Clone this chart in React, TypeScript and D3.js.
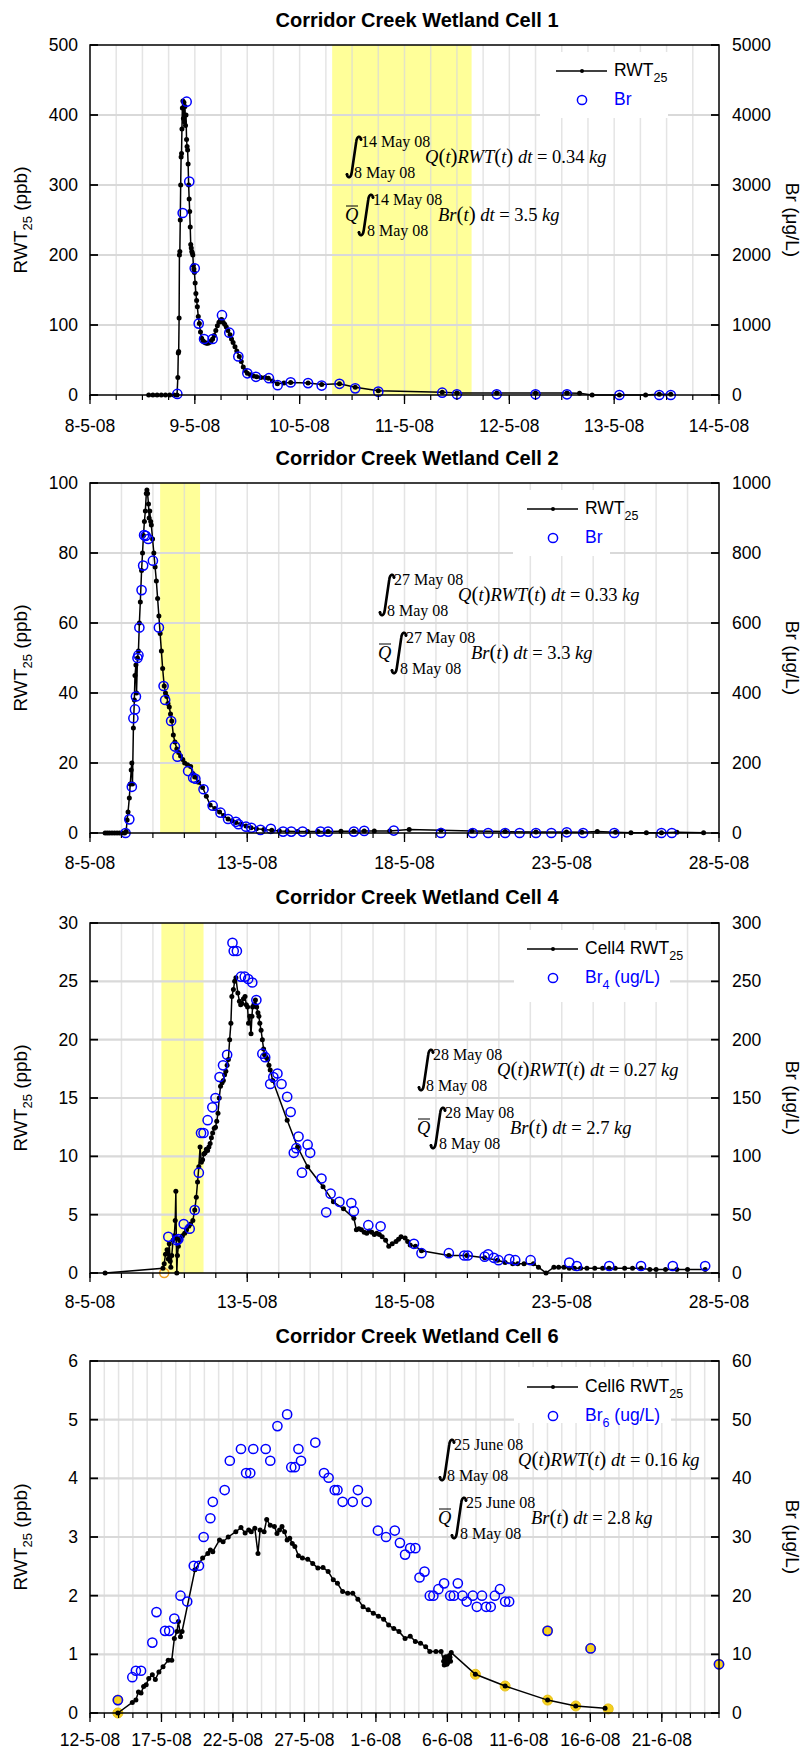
import React from "react";
import * as d3 from "d3";

type Pt = [number, number];

const W = 804;
const H = 1751;
const PLOT_LEFT = 90;
const PLOT_RIGHT = 719;
const SANS = "'Liberation Sans', Arial, Helvetica, sans-serif";
const SERIF = "'Liberation Serif', 'Times New Roman', Times, serif";
const BLUE = "#0000ff";

// ---------------- Cell 1 ----------------
const cell1Title = "Corridor Creek Wetland Cell 1";
const cell1Dates = ["2008-05-08", "2008-05-14"];
const cell1LeftTicks = [0, 100, 200, 300, 400, 500];
const cell1RightTicks = [0, 1000, 2000, 3000, 4000, 5000];
const cell1Shade: Pt = [2.31, 3.64];
const cell1Rwt: Pt[] = [
  [0.56, 0], [0.6, 0], [0.64, 0], [0.68, 0], [0.72, 0], [0.76, 0], [0.8, 0], [0.83, 0],
  [0.838, 25], [0.842, 60], [0.846, 62], [0.85, 110], [0.853, 200], [0.857, 205], [0.861, 250],
  [0.865, 300], [0.869, 340], [0.873, 345], [0.877, 380], [0.881, 410], [0.886, 420], [0.891, 395],
  [0.896, 418], [0.901, 390], [0.906, 412], [0.911, 385], [0.916, 400], [0.921, 365], [0.926, 355],
  [0.931, 350], [0.936, 330], [0.941, 300], [0.946, 280], [0.951, 262], [0.956, 240], [0.961, 215],
  [0.966, 210], [0.971, 205], [0.976, 203], [0.981, 200], [0.986, 185], [0.991, 180], [0.996, 175],
  [1.003, 160], [1.01, 145], [1.017, 135], [1.024, 126], [1.033, 112], [1.043, 102], [1.054, 90],
  [1.065, 81], [1.08, 77], [1.095, 75], [1.11, 74], [1.125, 74], [1.14, 75], [1.155, 77], [1.17, 80],
  [1.185, 85], [1.2, 92], [1.215, 99], [1.23, 104], [1.245, 107], [1.256, 108], [1.27, 104],
  [1.285, 101], [1.3, 97], [1.315, 92], [1.336, 86], [1.35, 80], [1.365, 75], [1.383, 69], [1.4, 63],
  [1.424, 55], [1.443, 48], [1.462, 40], [1.48, 35], [1.501, 31], [1.53, 29], [1.56, 27], [1.59, 26],
  [1.63, 25], [1.67, 25], [1.701, 24], [1.74, 20], [1.787, 16], [1.85, 17], [1.914, 18], [2.08, 17],
  [2.21, 15], [2.38, 16], [2.53, 11], [2.75, 6], [3.36, 4], [3.5, 3], [3.88, 3], [4.25, 3], [4.55, 3],
  [4.67, 2.5], [4.79, 0], [5.05, 0], [5.3, 0], [5.43, 1], [5.54, 1],
];
const cell1Br: Pt[] = [
  [0.833, 15], [0.884, 2600], [0.922, 4190], [0.947, 3050], [0.999, 1810], [1.037, 1020],
  [1.088, 800], [1.17, 800], [1.259, 1140], [1.329, 890], [1.415, 550], [1.501, 310], [1.583, 260],
  [1.707, 240], [1.79, 140], [1.914, 180], [2.08, 170], [2.21, 135], [2.38, 160], [2.53, 95],
  [2.75, 48], [3.36, 33], [3.5, 10], [3.88, 10], [4.25, 10], [4.55, 10], [5.05, 0], [5.43, 0], [5.54, 0],
];
const cell1Yellow: Pt[] = [];
const cell1LegendLine = "RWT";
const cell1LegendMarker = "Br";
const cell1MarkerSub = "";
const cell1Upper = "14 May 08";
const cell1Results = ["0.34", "3.5"];

// ---------------- Cell 2 ----------------
const cell2Title = "Corridor Creek Wetland Cell 2";
const cell2Dates = ["2008-05-08", "2008-05-28"];
const cell2LeftTicks = [0, 20, 40, 60, 80, 100];
const cell2RightTicks = [0, 200, 400, 600, 800, 1000];
const cell2Shade: Pt = [2.23, 3.5];
const cell2Rwt: Pt[] = [
  [0.48, 0], [0.55, 0], [0.62, 0], [0.7, 0], [0.78, 0], [0.86, 0], [0.94, 0], [1.02, 0], [1.1, 0],
  [1.15, 0.5], [1.18, 3.7], [1.21, 6], [1.25, 10], [1.28, 14], [1.31, 18], [1.33, 20], [1.35, 14],
  [1.38, 30], [1.41, 38], [1.43, 45], [1.46, 48], [1.48, 40], [1.51, 50], [1.54, 52], [1.57, 60],
  [1.6, 66], [1.64, 75], [1.67, 80], [1.7, 85], [1.73, 89], [1.76, 92], [1.79, 97], [1.81, 98],
  [1.83, 97], [1.86, 94], [1.88, 90], [1.9, 92], [1.93, 89], [1.95, 88], [1.99, 84], [2.03, 80],
  [2.07, 76], [2.11, 72], [2.15, 67], [2.19, 62], [2.23, 57], [2.27, 52], [2.31, 47], [2.36, 42],
  [2.4, 40], [2.44, 39], [2.48, 37], [2.52, 36], [2.56, 34], [2.6, 32], [2.65, 28], [2.7, 26],
  [2.76, 24], [2.82, 23], [2.88, 22], [2.95, 21], [3.01, 20], [3.1, 19.5], [3.2, 19], [3.27, 17],
  [3.33, 16], [3.45, 14.5], [3.58, 13], [3.7, 10.5], [3.82, 8], [3.97, 7], [4.12, 6], [4.25, 5],
  [4.39, 4], [4.52, 3.5], [4.64, 3], [4.8, 2.5], [4.96, 2], [5.12, 1.5], [5.29, 1.2], [5.53, 1],
  [5.78, 0.8], [6.02, 0.6], [6.27, 0.5], [6.6, 0.4], [6.92, 0.4], [7.25, 0.4], [7.57, 0.4],
  [7.98, 0.5], [8.39, 0.5], [8.72, 0.6], [9.04, 0.6], [9.53, 0.6], [10.15, 1.0], [11.16, 0.8],
  [12.14, 0.6], [13.2, 0.4], [14.18, 0.3], [15.15, 0.3], [15.64, 0.2], [16.13, 0.4], [16.71, 0.2],
  [17.2, 0.1], [17.69, 0.1], [18.17, 0.1], [18.66, 0.2], [19.51, 0.1],
];
const cell2Br: Pt[] = [
  [1.13, 0], [1.25, 39], [1.33, 132], [1.38, 328], [1.43, 353], [1.46, 390], [1.51, 500], [1.54, 508],
  [1.57, 587], [1.64, 694], [1.69, 764], [1.72, 851], [1.77, 849], [1.85, 840], [2.0, 778], [2.19, 587],
  [2.34, 420], [2.39, 380], [2.58, 320], [2.7, 247], [2.78, 218], [3.12, 177], [3.28, 158], [3.35, 155],
  [3.61, 125], [3.9, 78], [4.15, 58], [4.39, 40], [4.64, 32], [4.72, 25], [4.96, 18], [5.13, 15],
  [5.42, 9], [5.75, 12], [6.14, 4], [6.4, 4], [6.76, 4], [7.33, 4], [7.57, 4], [8.39, 4], [8.72, 6],
  [9.66, 7], [11.16, 0], [12.17, 0], [12.66, 0], [13.2, 0], [13.66, 0], [14.18, 0], [14.67, 0],
  [15.16, 2], [15.68, 0], [16.67, 0], [18.17, 0], [18.5, 0],
];
const cell2Yellow: Pt[] = [];
const cell2LegendLine = "RWT";
const cell2LegendMarker = "Br";
const cell2MarkerSub = "";
const cell2Upper = "27 May 08";
const cell2Results = ["0.33", "3.3"];

// ---------------- Cell 4 ----------------
const cell4Title = "Corridor Creek Wetland Cell 4";
const cell4Dates = ["2008-05-08", "2008-05-28"];
const cell4LeftTicks = [0, 5, 10, 15, 20, 25, 30];
const cell4RightTicks = [0, 50, 100, 150, 200, 250, 300];
const cell4Shade: Pt = [2.27, 3.61];
const cell4Rwt: Pt[] = [
  [0.48, 0], [2.32, 0.4], [2.36, 0.8], [2.4, 1.6], [2.45, 2.0], [2.49, 1.2], [2.52, 2.5], [2.55, 1.0],
  [2.57, 0.5], [2.6, 1.5], [2.64, 2.8], [2.68, 3.2], [2.71, 4.5], [2.73, 7], [2.745, 3], [2.76, 0],
  [2.78, 1.5], [2.81, 2.3], [2.85, 2.8], [2.88, 3], [2.94, 3.2], [3.01, 3.4], [3.07, 3.7], [3.14, 4],
  [3.2, 4.2], [3.27, 4.5], [3.33, 5.4], [3.38, 6.5], [3.42, 7.8], [3.46, 9.1], [3.5, 10.8], [3.54, 9.5],
  [3.58, 9.7], [3.62, 10.2], [3.66, 10.3], [3.7, 10.6], [3.74, 10.5], [3.78, 10.8], [3.82, 11.1],
  [3.86, 11.6], [3.9, 12], [3.95, 12.4], [3.99, 12.5], [4.03, 13], [4.07, 13.7], [4.11, 15], [4.15, 16],
  [4.2, 16.3], [4.24, 16.5], [4.28, 17], [4.32, 17.3], [4.36, 17.8], [4.4, 18.3], [4.44, 20],
  [4.48, 21.4], [4.51, 23.7], [4.56, 24.3], [4.6, 25], [4.64, 25.3], [4.7, 24], [4.75, 23.3], [4.79, 23],
  [4.83, 23.1], [4.88, 23.5], [4.93, 23.7], [4.97, 23], [5.01, 22.8], [5.04, 21.4], [5.08, 22],
  [5.12, 20.5], [5.15, 22], [5.17, 22.8], [5.21, 23], [5.26, 23.4], [5.3, 22.8], [5.34, 22.3], [5.37, 22],
  [5.4, 21.4], [5.44, 20.8], [5.48, 20], [5.52, 19.2], [5.55, 18.7], [5.6, 18.5], [5.65, 18.3],
  [5.69, 17.8], [5.73, 17.4], [5.81, 16.5], [6.27, 13.1], [6.6, 10.8], [6.92, 9.1], [7.41, 7.4],
  [7.74, 6.1], [8.06, 5.5], [8.39, 4.7], [8.47, 3.7], [8.55, 3.8], [8.63, 3.7], [8.72, 3.5], [8.8, 3.4],
  [8.88, 3.6], [8.96, 3.5], [9.04, 3.3], [9.12, 3.4], [9.2, 3.3], [9.29, 3.1], [9.4, 2.8], [9.5, 2.3],
  [9.61, 2.5], [9.73, 2.7], [9.81, 2.9], [9.89, 3.1], [10.02, 3.0], [10.1, 2.7], [10.18, 2.4],
  [10.35, 2.3], [10.54, 1.9], [11.41, 1.5], [11.98, 1.5], [12.55, 1.3], [12.96, 1.1], [13.2, 0.9],
  [13.44, 0.8], [13.6, 0.8], [13.8, 0.8], [14.1, 0.8], [14.26, 0.5], [14.5, 0], [14.75, 0.5], [14.9, 0.5],
  [15.07, 0.5], [15.24, 0.4], [15.4, 0.4], [15.6, 0.4], [15.8, 0.4], [16.05, 0.4], [16.3, 0.4],
  [16.5, 0.4], [16.7, 0.4], [17.0, 0.4], [17.25, 0.4], [17.52, 0.4], [17.8, 0.3], [18.0, 0.3],
  [18.3, 0.3], [18.66, 0.3], [19.0, 0.3], [19.56, 0.3],
];
const cell4Br: Pt[] = [
  [2.49, 31], [2.76, 28], [2.81, 29], [2.98, 42], [3.17, 38], [3.33, 54], [3.46, 86], [3.53, 120],
  [3.61, 120], [3.74, 131], [3.89, 142], [3.99, 150], [4.12, 168], [4.23, 178], [4.36, 187], [4.53, 283],
  [4.57, 276], [4.67, 276], [4.8, 254], [4.92, 254], [5.03, 252], [5.16, 249], [5.29, 234], [5.48, 188],
  [5.57, 185], [5.73, 162], [5.83, 168], [5.96, 171], [6.09, 162], [6.27, 151], [6.38, 138], [6.48, 103],
  [6.56, 107], [6.63, 117], [6.74, 86], [6.92, 110], [7.0, 103], [7.36, 81], [7.51, 52], [7.65, 68],
  [7.93, 61], [8.31, 60], [8.39, 53], [8.85, 41], [9.24, 40], [10.3, 25], [10.54, 17], [11.41, 17],
  [11.9, 15], [12.01, 15], [12.55, 14], [12.66, 16], [12.84, 13], [12.99, 11], [13.33, 12], [13.52, 11],
  [14.01, 11], [15.24, 9], [15.48, 6], [16.51, 6], [17.52, 6], [18.53, 6], [19.56, 6],
];
const cell4Yellow: Pt[] = [[2.36, 0]];
const cell4LegendLine = "Cell4 RWT";
const cell4LegendMarker = "Br";
const cell4MarkerSub = "4";
const cell4Upper = "28 May 08";
const cell4Results = ["0.27", "2.7"];

// ---------------- Cell 6 ----------------
const cell6Title = "Corridor Creek Wetland Cell 6";
const cell6Dates = ["2008-05-12", "2008-06-25"];
const cell6LeftTicks = [0, 1, 2, 3, 4, 5, 6];
const cell6RightTicks = [0, 10, 20, 30, 40, 50, 60];
const cell6Rwt: Pt[] = [
  [1.95, 0], [2.96, 0.18], [3.21, 0.22], [3.39, 0.36], [3.57, 0.34], [3.75, 0.45], [3.93, 0.48],
  [4.11, 0.59], [4.36, 0.65], [4.57, 0.57], [4.82, 0.7], [5.11, 0.79], [5.47, 0.9], [5.72, 0.9],
  [5.9, 1.27], [6.08, 1.39], [6.19, 1.56], [6.33, 1.3], [6.44, 1.39], [7.34, 2.44], [7.88, 2.64],
  [8.24, 2.72], [8.42, 2.78], [8.59, 2.75], [9.06, 2.95], [9.31, 2.92], [9.67, 3.0], [10.2, 3.09],
  [10.56, 3.16], [10.85, 3.07], [11.1, 3.12], [11.28, 3.09], [11.53, 3.15], [11.75, 2.72], [11.9, 3.12],
  [12.18, 3.09], [12.36, 3.3], [12.61, 3.2], [12.9, 3.18], [13.08, 3.06], [13.26, 3.12], [13.43, 3.18],
  [13.61, 3.09], [13.79, 2.95], [13.97, 2.98], [14.15, 2.89], [14.33, 2.84], [14.58, 2.68], [14.86, 2.64],
  [15.23, 2.62], [15.58, 2.55], [15.94, 2.47], [16.3, 2.48], [16.66, 2.41], [17.02, 2.27], [17.31, 2.21],
  [17.67, 2.07], [18.03, 2.04], [18.38, 2.04], [18.74, 1.94], [19.1, 1.81], [19.46, 1.76], [19.82, 1.7],
  [20.18, 1.65], [20.54, 1.6], [20.89, 1.5], [21.25, 1.44], [21.61, 1.39], [22.04, 1.27], [22.4, 1.31],
  [22.76, 1.22], [23.12, 1.19], [23.48, 1.13], [23.77, 1.05], [24.2, 1.05], [24.56, 1.05], [24.74, 0.88],
  [24.78, 0.82], [24.83, 0.95], [24.87, 0.85], [24.92, 0.96], [24.96, 0.83], [25.0, 0.85], [25.05, 0.92],
  [25.1, 0.9], [25.14, 0.98], [25.18, 0.95], [25.22, 0.88], [25.27, 1.03], [26.96, 0.66],
  [29.04, 0.46], [32.01, 0.22], [33.98, 0.12], [36.03, 0.08],
];
const cell6Br: Pt[] = [
  [1.95, 2.2], [2.96, 6.1], [3.21, 7.2], [3.57, 7.2], [4.36, 12], [4.65, 17.2], [5.25, 14], [5.54, 14],
  [5.9, 16.1], [6.33, 20], [6.8, 19], [7.26, 25.1], [7.62, 25.1], [7.95, 30], [8.42, 33.2], [8.59, 36],
  [9.42, 38], [9.78, 43], [10.56, 45], [10.92, 40.9], [11.21, 40.9], [11.42, 45], [12.29, 45], [12.61, 43],
  [13.11, 48.9], [13.79, 50.9], [14.08, 41.9], [14.33, 41.9], [14.58, 45], [14.76, 43], [15.76, 46.1],
  [16.37, 40.9], [16.69, 40.1], [17.12, 38], [17.31, 38], [17.67, 36], [18.38, 36], [18.74, 38],
  [19.35, 36], [20.14, 31.1], [20.71, 30], [21.32, 31.1], [21.68, 29], [22.04, 27], [22.4, 28.1],
  [22.76, 28.1], [23.05, 23.1], [23.4, 24.1], [23.77, 20], [24.02, 20], [24.37, 21.1], [24.77, 22.1],
  [25.2, 20], [25.45, 20], [25.73, 22.1], [26.06, 20], [26.35, 19], [26.78, 20], [27.06, 18.1],
  [27.42, 20], [27.71, 18.1], [28.03, 18.1], [28.32, 20], [28.68, 21.1], [29.04, 19], [29.32, 19],
  [32.01, 14], [35.02, 11], [44.0, 8.3],
];
const cell6Yellow: Pt[] = [
  [1.95, 0], [1.95, 2.2], [26.96, 6.6], [29.04, 4.6], [32.01, 2.2], [32.01, 14], [33.98, 1.2],
  [35.02, 11], [36.25, 0.7], [44.0, 8.3],
];
const cell6LegendLine = "Cell6 RWT";
const cell6LegendMarker = "Br";
const cell6MarkerSub = "6";
const cell6Upper = "25 June 08";
const cell6Results = ["0.16", "2.8"];

const lowerLimit = "8 May 08";

// ---------------- layout ----------------
type PanelCfg = {
  title: string;
  dates: string[];
  top: number;
  bottom: number;
  titleY: number;
  hourly: boolean;
  leftTicks: number[];
  rightTicks: number[];
  shade: Pt | null;
  rwt: Pt[];
  br: Pt[];
  yellow: Pt[];
  yellowStyle: "fill" | "ring";
  legendLine: string;
  legendMarker: string;
  markerSub: string;
  markerSuffix: string;
  legendX: number;
  legendBox: [number, number, number, number];
  upper: string;
  results: string[];
  ix: number;
  iy: number;
  labelOffset: number;
};

const panels: PanelCfg[] = [
  {
    title: cell1Title, dates: cell1Dates, top: 45, bottom: 395, titleY: 27, hourly: true,
    leftTicks: cell1LeftTicks, rightTicks: cell1RightTicks, shade: cell1Shade,
    rwt: cell1Rwt, br: cell1Br, yellow: cell1Yellow, yellowStyle: "fill",
    legendLine: cell1LegendLine, legendMarker: cell1LegendMarker, markerSub: cell1MarkerSub, markerSuffix: "",
    legendX: 556, legendBox: [540, 52, 128, 66],
    upper: cell1Upper, results: cell1Results, ix: 347, iy: 157, labelOffset: 37,
  },
  {
    title: cell2Title, dates: cell2Dates, top: 483, bottom: 833, titleY: 465, hourly: false,
    leftTicks: cell2LeftTicks, rightTicks: cell2RightTicks, shade: cell2Shade,
    rwt: cell2Rwt, br: cell2Br, yellow: cell2Yellow, yellowStyle: "fill",
    legendLine: cell2LegendLine, legendMarker: cell2LegendMarker, markerSub: cell2MarkerSub, markerSuffix: "",
    legendX: 527, legendBox: [513, 490, 97, 66],
    upper: cell2Upper, results: cell2Results, ix: 380, iy: 595, labelOffset: 36,
  },
  {
    title: cell4Title, dates: cell4Dates, top: 923, bottom: 1273, titleY: 904, hourly: false,
    leftTicks: cell4LeftTicks, rightTicks: cell4RightTicks, shade: cell4Shade,
    rwt: cell4Rwt, br: cell4Br, yellow: cell4Yellow, yellowStyle: "ring",
    legendLine: cell4LegendLine, legendMarker: cell4LegendMarker, markerSub: cell4MarkerSub, markerSuffix: " (ug/L)",
    legendX: 527, legendBox: [514, 930, 156, 72],
    upper: cell4Upper, results: cell4Results, ix: 419, iy: 1070, labelOffset: 35,
  },
  {
    title: cell6Title, dates: cell6Dates, top: 1361, bottom: 1713, titleY: 1343, hourly: false,
    leftTicks: cell6LeftTicks, rightTicks: cell6RightTicks, shade: null,
    rwt: cell6Rwt, br: cell6Br, yellow: cell6Yellow, yellowStyle: "fill",
    legendLine: cell6LegendLine, legendMarker: cell6LegendMarker, markerSub: cell6MarkerSub, markerSuffix: " (ug/L)",
    legendX: 527, legendBox: [514, 1367, 157, 56],
    upper: cell6Upper, results: cell6Results, ix: 440, iy: 1460, labelOffset: 33,
  },
];

const parseDate = d3.utcParse("%Y-%m-%d");
const fmt = d3.utcFormat("%-d-%-m-%y");
const DAY = 86400000;

function IntegralSign({ x, yTop }: { x: number; yTop: number }) {
  const h = 42;
  const w = 14;
  const d = `M ${x + w} ${yTop + 3.5} C ${x + w - 0.5} ${yTop - 0.5}, ${x + w - 4} ${yTop - 0.5}, ${x + w - 4.8} ${yTop + 6} L ${x + 4.8} ${yTop + h - 6} C ${x + 4} ${yTop + h + 0.5}, ${x + 0.5} ${yTop + h + 0.5}, ${x} ${yTop + h - 3.5}`;
  return (
    <g>
      <path d={d} fill="none" stroke="#000" strokeWidth={2.6} strokeLinecap="round" />
      <circle cx={x + w} cy={yTop + 3.5} r={1.4} fill="#000" />
      <circle cx={x} cy={yTop + h - 3.5} r={1.4} fill="#000" />
    </g>
  );
}

function Formula({ ix, iy, upper, results }: { ix: number; iy: number; upper: string; results: string[] }) {
  const it = { fontStyle: "italic" as const };
  const par = { fontSize: 21 };
  const y2 = iy + 58;
  return (
    <g fontFamily={SERIF} fill="#000">
      <IntegralSign x={ix} yTop={iy - 21} />
      <text x={ix + 14} y={iy - 10} fontSize={16}>{upper}</text>
      <text x={ix + 7} y={iy + 21} fontSize={16}>{lowerLimit}</text>
      <text x={ix + 78} y={iy + 6} fontSize={18.5}>
        <tspan {...it}>Q</tspan>
        <tspan {...par}>(</tspan>
        <tspan {...it}>t</tspan>
        <tspan {...par}>)</tspan>
        <tspan {...it}>RWT</tspan>
        <tspan {...par}>(</tspan>
        <tspan {...it}>t</tspan>
        <tspan {...par}>)</tspan>
        <tspan>{"\u00a0"}</tspan>
        <tspan {...it}>dt</tspan>
        <tspan>{" = " + results[0] + "\u00a0"}</tspan>
        <tspan {...it}>kg</tspan>
      </text>

      <text x={ix - 2} y={y2 + 6} fontSize={18.5} {...it}>Q</text>
      <line x1={ix - 1} x2={ix + 11} y1={y2 - 9} y2={y2 - 9} stroke="#000" strokeWidth={1} />
      <IntegralSign x={ix + 12} yTop={y2 - 21} />
      <text x={ix + 26} y={y2 - 10} fontSize={16}>{upper}</text>
      <text x={ix + 20} y={y2 + 21} fontSize={16}>{lowerLimit}</text>
      <text x={ix + 91} y={y2 + 6} fontSize={18.5}>
        <tspan {...it}>Br</tspan>
        <tspan {...par}>(</tspan>
        <tspan {...it}>t</tspan>
        <tspan {...par}>)</tspan>
        <tspan>{"\u00a0"}</tspan>
        <tspan {...it}>dt</tspan>
        <tspan>{" = " + results[1] + "\u00a0"}</tspan>
        <tspan {...it}>kg</tspan>
      </text>
    </g>
  );
}

function Panel({ cfg }: { cfg: PanelCfg }) {
  const start = parseDate(cfg.dates[0]) as Date;
  const end = parseDate(cfg.dates[1]) as Date;
  const x = d3.scaleUtc().domain([start, end]).range([PLOT_LEFT, PLOT_RIGHT]);
  const yL = d3.scaleLinear().domain([0, cfg.leftTicks[cfg.leftTicks.length - 1]]).range([cfg.bottom, cfg.top]);
  const yR = d3.scaleLinear().domain([0, cfg.rightTicks[cfg.rightTicks.length - 1]]).range([cfg.bottom, cfg.top]);
  const toDate = (t: number) => new Date(start.getTime() + t * DAY);
  const px = (t: number) => x(toDate(t));

  const endPlus = new Date(end.getTime() + 1000);
  const minor: Date[] = cfg.hourly
    ? (d3.utcHour.every(6) as d3.CountableTimeInterval).range(start, endPlus)
    : d3.utcDay.range(start, endPlus);
  const major: Date[] = cfg.hourly
    ? minor.filter((d) => d.getUTCHours() === 0)
    : minor.filter((_, i) => i % 5 === 0);

  const line = d3
    .line<Pt>()
    .x((d) => px(d[0]))
    .y((d) => yL(d[1]));

  const midY = (cfg.top + cfg.bottom) / 2;
  const lx = cfg.legendX;
  const ly = cfg.top + 26;
  const ly2 = cfg.top + 55;

  return (
    <g>
      <text x={417} y={cfg.titleY} textAnchor="middle" fontFamily={SANS} fontWeight="bold" fontSize={20}>
        {cfg.title}
      </text>

      {cfg.shade && (
        <rect
          x={px(cfg.shade[0])}
          y={cfg.top}
          width={px(cfg.shade[1]) - px(cfg.shade[0])}
          height={cfg.bottom - cfg.top}
          fill="#ffff99"
        />
      )}

      {/* vertical grid */}
      {minor
        .filter((d) => d > start && d < end)
        .map((d, i) => (
          <line key={"vg" + i} x1={x(d)} x2={x(d)} y1={cfg.top} y2={cfg.bottom} stroke="#d8d8d8" strokeOpacity={0.7} strokeWidth={1.5} />
        ))}
      {/* horizontal grid */}
      {cfg.leftTicks.slice(1, -1).map((v, i) => (
        <line key={"hg" + i} x1={PLOT_LEFT} x2={PLOT_RIGHT} y1={yL(v)} y2={yL(v)} stroke="#d9d9d9" strokeWidth={2.2} />
      ))}

      {/* legend background */}
      <rect x={cfg.legendBox[0]} y={cfg.legendBox[1]} width={cfg.legendBox[2]} height={cfg.legendBox[3]} fill="#fff" />

      {/* yellow markers */}
      {cfg.yellow.map((d, i) =>
        cfg.yellowStyle === "fill" ? (
          <circle key={"ye" + i} cx={px(d[0])} cy={yR(d[1])} r={5} fill="#f5d020" stroke="#e8c21a" strokeWidth={1} />
        ) : (
          <circle key={"ye" + i} cx={px(d[0])} cy={yR(d[1])} r={4.5} fill="none" stroke="#f0a020" strokeWidth={1.5} />
        )
      )}

      {/* RWT line */}
      <path d={line(cfg.rwt) || ""} fill="none" stroke="#000" strokeWidth={1.5} />
      {cfg.rwt.map((d, i) => (
        <circle key={"rm" + i} cx={px(d[0])} cy={yL(d[1])} r={2.5} fill="#000" />
      ))}

      {/* Br markers */}
      {cfg.br.map((d, i) => (
        <circle key={"br" + i} cx={px(d[0])} cy={yR(d[1])} r={4.6} fill="none" stroke={BLUE} strokeWidth={1.5} />
      ))}

      {/* frame */}
      <rect x={PLOT_LEFT} y={cfg.top} width={PLOT_RIGHT - PLOT_LEFT} height={cfg.bottom - cfg.top} fill="none" stroke="#000" strokeWidth={1.5} />

      {/* x ticks */}
      {minor.map((d, i) => (
        <line key={"mt" + i} x1={x(d)} x2={x(d)} y1={cfg.bottom} y2={cfg.bottom + 5} stroke="#000" strokeWidth={1.2} />
      ))}
      {major.map((d, i) => (
        <line key={"Mt" + i} x1={x(d)} x2={x(d)} y1={cfg.bottom} y2={cfg.bottom + 9} stroke="#000" strokeWidth={1.3} />
      ))}
      {major.map((d, i) => (
        <text key={"xl" + i} x={x(d)} y={cfg.bottom + cfg.labelOffset} textAnchor="middle" fontFamily={SANS} fontSize={17.5}>
          {fmt(d)}
        </text>
      ))}

      {/* y ticks */}
      {cfg.leftTicks.map((v, i) => (
        <g key={"yl" + i}>
          <line x1={PLOT_LEFT} x2={PLOT_LEFT + 8} y1={yL(v)} y2={yL(v)} stroke="#000" strokeWidth={1.8} />
          <text x={78} y={yL(v) + 6} textAnchor="end" fontFamily={SANS} fontSize={17.5}>{v}</text>
        </g>
      ))}
      {cfg.rightTicks.map((v, i) => (
        <g key={"yr" + i}>
          <line x1={PLOT_RIGHT - 8} x2={PLOT_RIGHT} y1={yR(v)} y2={yR(v)} stroke="#000" strokeWidth={1.8} />
          <text x={732} y={yR(v) + 6} textAnchor="start" fontFamily={SANS} fontSize={17.5}>{v}</text>
        </g>
      ))}

      {/* axis titles */}
      <text transform={`translate(27, ${midY}) rotate(-90)`} textAnchor="middle" fontFamily={SANS} fontSize={19}>
        RWT<tspan dy={5} fontSize={13}>25</tspan>
        <tspan dy={-5} fontSize={19}>{"\u00a0(ppb)"}</tspan>
      </text>
      <text transform={`translate(786, ${midY}) rotate(90)`} textAnchor="middle" fontFamily={SANS} fontSize={19}>
        Br (μg/L)
      </text>

      {/* legend */}
      <line x1={lx} x2={lx + 51} y1={ly} y2={ly} stroke="#000" strokeWidth={1.5} />
      <circle cx={lx + 26} cy={ly} r={2} fill="#000" />
      <text x={lx + 58} y={ly + 5} fontFamily={SANS} fontSize={17.5}>
        {cfg.legendLine}
        <tspan dy={6} fontSize={12.5}>25</tspan>
      </text>
      <circle cx={lx + 26} cy={ly2} r={4.6} fill="none" stroke={BLUE} strokeWidth={1.5} />
      <text x={lx + 58} y={ly2 + 5} fontFamily={SANS} fontSize={17.5} fill={BLUE}>
        {cfg.legendMarker}
        {cfg.markerSub && <tspan dy={6} fontSize={12.5}>{cfg.markerSub}</tspan>}
        {cfg.markerSuffix && <tspan dy={-6} fontSize={17.5}>{cfg.markerSuffix.replace(" ", "\u00a0")}</tspan>}
      </text>

      <Formula ix={cfg.ix} iy={cfg.iy} upper={cfg.upper} results={cfg.results} />
    </g>
  );
}

export default function App() {
  return (
    <svg
      width={W}
      height={H}
      viewBox={`0 0 ${W} ${H}`}
      style={{ position: "absolute", left: 0, top: 0, background: "#fff" }}
    >
      <rect x={0} y={0} width={W} height={H} fill="#fff" />
      {panels.map((p, i) => (
        <Panel key={i} cfg={p} />
      ))}
    </svg>
  );
}
